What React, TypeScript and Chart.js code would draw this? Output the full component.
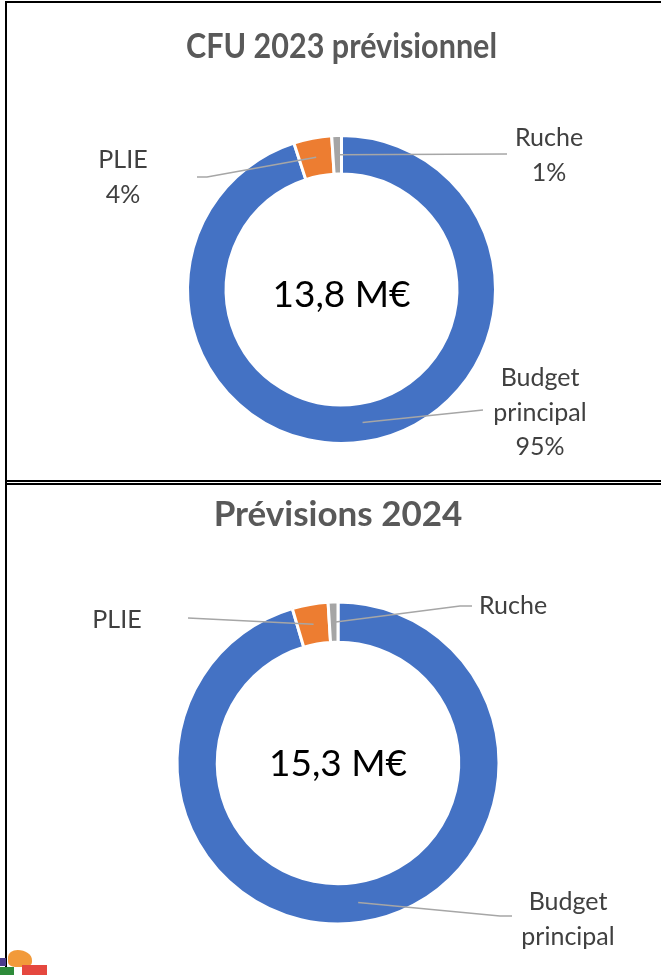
import React, { useEffect, useRef } from "react";
import { Chart, registerables } from "chart.js";

Chart.register(...registerables);

// ---- data ----
const categories = ["Budget principal", "PLIE", "Ruche"];
const values2023 = [13.11, 0.55, 0.14];
const values2024 = [14.6, 0.55, 0.15];
const sliceColors = ["#4472C4", "#ED7D31", "#A5A5A5"];
const title2023 = "CFU 2023 prévisionnel";
const title2024 = "Prévisions 2024";

const FONT = "Lato, 'Open Sans', sans-serif";

type Callout = { elbow: [number, number]; end: [number, number]; text: [number, number] };

const callouts2023: Callout[] = [
  { elbow: [483, 410], end: [483, 410], text: [540, 378] },
  { elbow: [207, 177], end: [197, 177], text: [123, 160] },
  { elbow: [507, 154], end: [507, 154], text: [549, 138] },
];
const callouts2024: Callout[] = [
  { elbow: [500, 431], end: [512, 431], text: [568, 417] },
  { elbow: [188, 133], end: [188, 133], text: [117, 135] },
  { elbow: [460, 121], end: [472, 121], text: [513, 121] },
];

const calloutPlugin = {
  id: "callouts",
  afterDatasetsDraw(chart: any, _args: any, opts: any) {
    const ctx: CanvasRenderingContext2D = chart.ctx;
    const meta = chart.getDatasetMeta(0);
    const data = chart.data.datasets[0].data as number[];
    const total = data.reduce((a, b) => a + b, 0);
    const labels = chart.data.labels as string[];
    const list: Callout[] = opts.callouts || [];
    list.forEach((c, i) => {
      const arc = meta.data[i];
      if (!arc) return;
      const p = arc.getCenterPoint();
      ctx.save();
      ctx.strokeStyle = "#A6A6A6";
      ctx.lineWidth = 1.5;
      ctx.beginPath();
      ctx.moveTo(p.x, p.y);
      ctx.lineTo(c.elbow[0], c.elbow[1]);
      ctx.lineTo(c.end[0], c.end[1]);
      ctx.stroke();
      const lines = labels[i].split(" ");
      if (opts.showPct) lines.push(Math.round((data[i] / total) * 100) + "%");
      ctx.fillStyle = "#404040";
      ctx.font = `${opts.labelSize}px ${FONT}`;
      ctx.textAlign = "center";
      ctx.textBaseline = "middle";
      lines.forEach((ln, k) => ctx.fillText(ln, c.text[0], c.text[1] + k * opts.lineGap));
      ctx.restore();
    });
    // center total
    const a0 = meta.data[0];
    if (a0) {
      const txt = total.toFixed(1).replace(".", ",") + " M€";
      ctx.save();
      ctx.fillStyle = "#000000";
      ctx.font = `${opts.centerSize}px ${FONT}`;
      ctx.textAlign = "center";
      ctx.textBaseline = "middle";
      ctx.fillText(txt, a0.x, a0.y + opts.centerDy);
      ctx.restore();
    }
  },
};

function Donut(props: {
  values: number[];
  title: string;
  width: number;
  height: number;
  padding: { left: number; right: number; top: number; bottom: number };
  titlePad: { top: number; bottom: number };
  callouts: Callout[];
  showPct: boolean;
  centerDy: number;
}) {
  const ref = useRef<HTMLCanvasElement>(null);
  useEffect(() => {
    if (!ref.current) return;
    const chart = new Chart(ref.current, {
      type: "doughnut",
      data: {
        labels: categories,
        datasets: [
          {
            data: props.values,
            backgroundColor: sliceColors,
            borderColor: "#ffffff",
            borderWidth: 3,
          },
        ],
      },
      options: {
        animation: false,
        responsive: false,
        devicePixelRatio: 1,
        cutout: "75%",
        layout: { padding: props.padding },
        events: [],
        plugins: {
          legend: { display: false },
          tooltip: { enabled: false },
          title: {
            display: true,
            text: props.title,
            color: "#595959",
            font: { family: FONT, size: 35, weight: "bold", lineHeight: 1.2 },
            padding: props.titlePad,
          },
          callouts: {
            callouts: props.callouts,
            showPct: props.showPct,
            labelSize: 25,
            lineGap: 34.5,
            centerSize: 37,
            centerDy: props.centerDy,
          },
        } as any,
      },
      plugins: [calloutPlugin],
    });
    return () => chart.destroy();
  }, []);
  return <canvas ref={ref} width={props.width} height={props.height} style={{ display: "block", width: props.width, height: props.height }} />;
}

export default function App() {
  return (
    <div style={{ position: "absolute", left: 0, top: 0, width: 661, height: 975, overflow: "hidden", background: "#fff" }}>
      <div style={{ position: "absolute", left: 0, top: 0 }}>
        <Donut
          values={values2023}
          title={title2023}
          width={661}
          height={480}
          padding={{ left: 186, right: 164, top: 0, bottom: 35 }}
          titlePad={{ top: 26, bottom: 66 }}
          callouts={callouts2023}
          showPct={true}
          centerDy={6}
        />
      </div>
      <div style={{ position: "absolute", left: 0, top: 485 }}>
        <Donut
          values={values2024}
          title={title2024}
          width={661}
          height={490}
          padding={{ left: 175.5, right: 160.5, top: 0, bottom: 49.5 }}
          titlePad={{ top: 9, bottom: 64.5 }}
          callouts={callouts2024}
          showPct={false}
          centerDy={1}
        />
      </div>
      {/* frame lines */}
      <div style={{ position: "absolute", left: 5, top: 1, width: 656, height: 2, background: "#000" }} />
      <div style={{ position: "absolute", left: 5, top: 1, width: 2, height: 974, background: "#000" }} />
      <div style={{ position: "absolute", left: 5, top: 480, width: 656, height: 1.5, background: "#000" }} />
      <div style={{ position: "absolute", left: 5, top: 483, width: 656, height: 1.5, background: "#000" }} />
      {/* logo fragment */}
      <div style={{ position: "absolute", left: 0, top: 958, width: 6, height: 8, background: "#4B3C8C" }} />
      <div style={{ position: "absolute", left: 8, top: 950, width: 24, height: 17, background: "#F29A3A", borderRadius: "40% 60% 30% 30%" }} />
      <div style={{ position: "absolute", left: 0, top: 967, width: 14, height: 8, background: "#2E8B3A" }} />
      <div style={{ position: "absolute", left: 22, top: 965, width: 25, height: 10, background: "#E5483F" }} />
    </div>
  );
}
